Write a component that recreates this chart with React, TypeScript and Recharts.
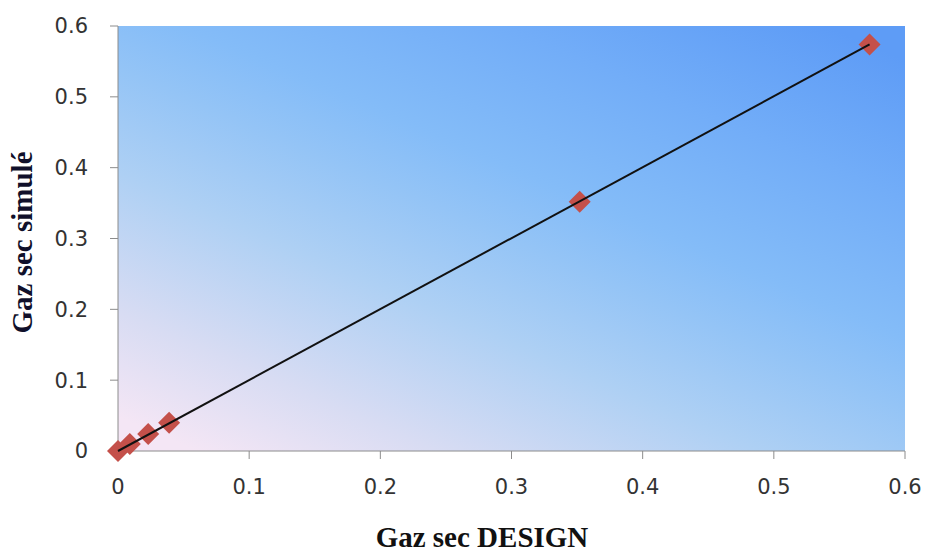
import React from 'react';
import { ScatterChart, Scatter, XAxis, YAxis, ReferenceArea } from 'recharts';

// design vs simulated dry gas
const designVals = [0, 0.009, 0.023, 0.039, 0.352, 0.573];
const simulVals = [0, 0.01, 0.024, 0.04, 0.352, 0.574];
const trendX = [0, 0.573];
const trendY = [0, 0.574];
const axisTicks = [0, 0.1, 0.2, 0.3, 0.4, 0.5, 0.6];

const points = designVals.map((x, i) => ({ x, y: simulVals[i] }));
const trend = trendX.map((x, i) => ({ x, y: trendY[i] }));

const Diamond = (props: any) => {
    const { cx, cy } = props;
    const r = 11;
    return (
        <polygon
            points={`${cx},${cy - r} ${cx + r},${cy} ${cx},${cy + r} ${cx - r},${cy}`}
            fill="#c4504a"
        />
    );
};

const tickStyle = { fontSize: 21, fill: '#333', fontFamily: '"DejaVu Sans", sans-serif' };
const titleStyle = { fontSize: 29, fontWeight: 'bold' as const, fontFamily: '"Liberation Serif", serif' };

const YLabel = (props: any) => {
    const vb = props.viewBox || {};
    const cy = (vb.y ?? 26) + (vb.height ?? 425) / 2 + 4;
    return (
        <text
            x={22}
            y={cy}
            transform={`rotate(-90, 22, ${cy})`}
            textAnchor="middle"
            dominantBaseline="central"
            style={{ ...titleStyle, fill: '#10102a' }}
        >
            Gaz sec simulé
        </text>
    );
};

const XLabel = () => (
    <text x={482} y={547} textAnchor="middle" style={{ ...titleStyle, fill: '#111' }}>
        Gaz sec DESIGN
    </text>
);

const App: React.FC = () => {
    return (
        <div style={{ position: 'fixed', top: 0, left: 0, width: 925, height: 553, background: '#fff', overflow: 'visible' }}>
            <svg width={0} height={0} style={{ position: 'absolute' }}>
                <defs>
                    <linearGradient id="plotBg" x1="0.1" y1="1" x2="0.9" y2="0">
                        <stop offset="0" stopColor="#f4e6f5" />
                        <stop offset="0.15" stopColor="#d8dcf3" />
                        <stop offset="0.35" stopColor="#aed0f4" />
                        <stop offset="0.5" stopColor="#94c4f6" />
                        <stop offset="0.6" stopColor="#84bcf8" />
                        <stop offset="0.8" stopColor="#72adf8" />
                        <stop offset="1" stopColor="#5e9cf6" />
                    </linearGradient>
                </defs>
            </svg>
            <ScatterChart
                width={925}
                height={553}
                margin={{ top: 26, right: 20, bottom: 0, left: 0 }}
                style={{ overflow: 'visible' }}
            >
                <ReferenceArea x1={0} x2={0.6} y1={0} y2={0.6} fill="url(#plotBg)" fillOpacity={1} stroke="none" />
                <XAxis
                    type="number"
                    dataKey="x"
                    domain={[0, 0.6]}
                    ticks={axisTicks}
                    tickSize={8}
                    tickMargin={20}
                    height={102}
                    stroke="#8c8c8c"
                    tick={tickStyle}
                    interval={0}
                    label={<XLabel />}
                />
                <YAxis
                    type="number"
                    dataKey="y"
                    domain={[0, 0.6]}
                    ticks={axisTicks}
                    tickSize={8}
                    tickMargin={22}
                    width={118}
                    stroke="#8c8c8c"
                    tick={tickStyle}
                    interval={0}
                    label={<YLabel />}
                />
                <Scatter data={points} shape={<Diamond />} isAnimationActive={false} />
                <Scatter
                    data={trend}
                    line={{ stroke: '#111', strokeWidth: 2 }}
                    shape={() => <g />}
                    isAnimationActive={false}
                />
            </ScatterChart>
        </div>
    );
};

export default App;
